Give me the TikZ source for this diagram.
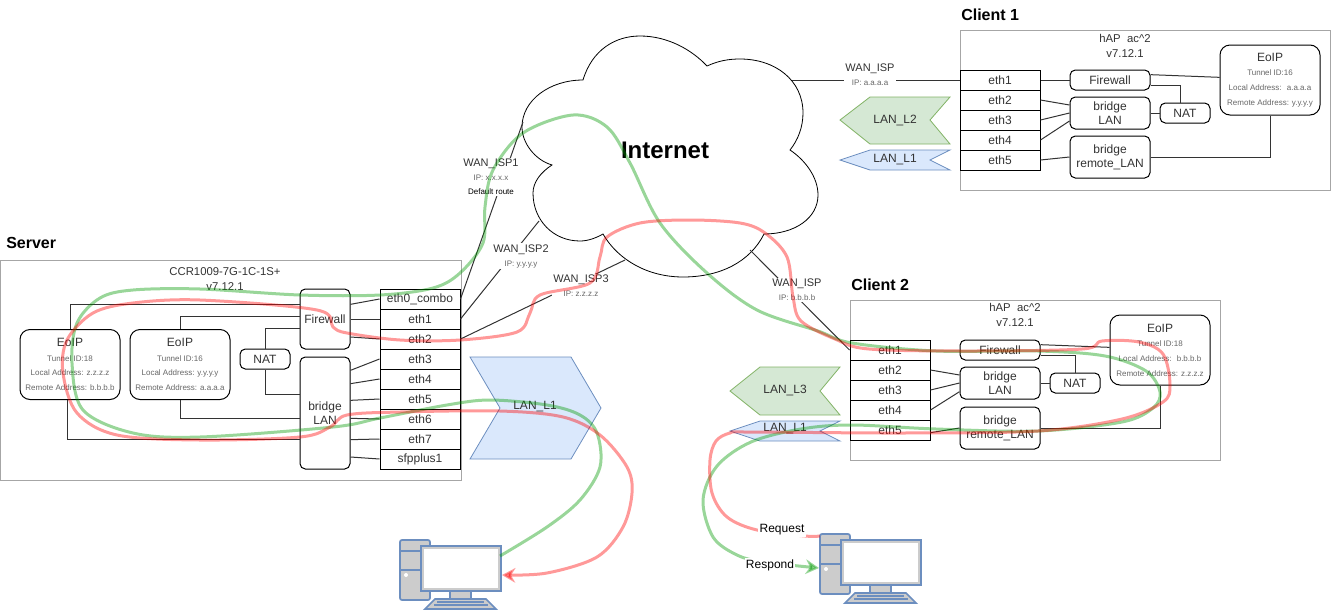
\documentclass[tikz,border=0pt]{standalone}
\usepackage{fontspec}
\setmainfont{Liberation Sans}
\usetikzlibrary{arrows.meta}
\definecolor{lanblue}{HTML}{DAE8FC}
\definecolor{lanblueline}{HTML}{6C8EBF}
\definecolor{langreen}{HTML}{D5E8D4}
\definecolor{langreenline}{HTML}{82B366}
\definecolor{framegrey}{HTML}{A6A6A6}
\definecolor{wiregrey}{HTML}{333333}
\definecolor{smallgrey}{HTML}{666666}
\definecolor{pcgrey}{HTML}{CCCCCC}
\newcommand{\smalltext}[1]{{\fontsize{6}{10.5}\selectfont\color{smallgrey}#1}}
\newcommand{\eoiptext}[3]{EoIP\\\smalltext{Tunnel ID:#1}\\\smalltext{Local Address: #2}\\\smalltext{Remote Address: #3}}
\tikzset{
	frame/.style={draw=framegrey, line width=0.75pt},
	heading/.style={inner sep=0pt, font=\fontsize{12}{14}\selectfont\bfseries},
	title/.style={align=center, text=wiregrey, font=\fontsize{8.5}{11.5}\selectfont},
	portbox/.style={draw, line width=0.75pt, minimum width=60pt, minimum height=15pt, inner sep=0pt, text=wiregrey, font=\fontsize{9}{11}\selectfont},
	roundbox/.style={draw, line width=0.75pt, rounded corners=4pt, minimum width=#1, inner sep=0pt, align=center, fill=white, text=wiregrey, font=\fontsize{9}{10.5}\selectfont},
	eoipbox/.style={draw, line width=0.75pt, rounded corners=7.5pt, minimum width=75pt, minimum height=52.5pt, inner sep=0pt, align=center, text=wiregrey, font=\fontsize{9}{11}\selectfont},
	wire/.style={draw=wiregrey, line width=0.75pt},
	wanlabel/.style={fill=white, align=center, inner sep=1pt, text=wiregrey, font=\fontsize{8.25}{10.5}\selectfont},
	lanblueshape/.style={draw=lanblueline, fill=lanblue, line width=0.6pt},
	langreenshape/.style={draw=langreenline, fill=langreen, line width=0.6pt},
	lantext/.style={inner sep=0pt, text=wiregrey, font=\fontsize{9}{11}\selectfont},
	flowtext/.style={fill=white, inner sep=1pt, font=\fontsize{9}{11}\selectfont},
	redflow/.style={draw=red, opacity=0.4, line width=2.25pt},
	greenflow/.style={draw=green!60!black, opacity=0.4, line width=2.25pt},
	pcline/.style={draw=lanblueline, line width=1.3pt},
	pcicon/.pic={
		\draw[pcline, fill=pcgrey, rounded corners=1.5pt] (0,0) rectangle (30,60);
		\draw[pcline] (0,11) -- (21,11);
		\draw[pcline] (0,30) -- (21,30);
		\fill[white] (6,35) circle (1.5pt);
		\draw[pcline, fill=pcgrey] (50,51) rectangle (71,59);
		\draw[pcline, fill=pcgrey] (35,59) -- (86,59) -- (96,69) -- (25,69) -- cycle;
		\draw[pcline, line width=0.9pt] (37,62) -- (84,62);
		\draw[pcline, line width=0.9pt] (34,65) -- (88,65);
		\draw[pcline, fill=pcgrey] (21,6) rectangle (101,51);
		\fill[white] (24,9) rectangle (98,48);
		\coordinate (-ru) at (100,16);
		\coordinate (-rl) at (102,35);
		\coordinate (-lu) at (0,2);
		\coordinate (-ll) at (-1,34);
	}
}
\begin{document}
\begin{tikzpicture}[x=0.75pt, y=-0.75pt]
	\useasboundingbox (0,0) rectangle (1331,611);
	% device frames
	\draw[frame] (0,260) rectangle (461,480);
	\draw[frame] (960,30) rectangle (1330,190);
	\draw[frame] (850,300) rectangle (1220,460);
	\node[heading, anchor=west] (hserver) at (6,243) {Server};
	\node[heading, anchor=west] (hclienta) at (961,15) {Client 1};
	\node[heading, anchor=west] (hclientb) at (851,285) {Client 2};
	\node[title] (tserver) at (225,279) {CCR1009-7G-1C-1S+\\v7.12.1};
	\node[title] (tclienta) at (1125,46) {hAP\ \ ac\textasciicircum 2\\v7.12.1};
	\node[title] (tclientb) at (1015,315) {hAP\ \ ac\textasciicircum 2\\v7.12.1};
	% internet
	\draw[fill=white, line width=0.6pt] (583,80) .. controls (592,50) and (615,36) .. (640,36)
		.. controls (668,36) and (692,50) .. (707,66)
		.. controls (718,61) and (728,59) .. (740,59)
		.. controls (775,59) and (803,80) .. (803,113)
		.. controls (803,127) and (798,140) .. (790,150)
		.. controls (805,160) and (818,177) .. (818,195)
		.. controls (818,218) and (795,234) .. (764,234)
		.. controls (750,262) and (720,277) .. (683,277)
		.. controls (648,277) and (618,260) .. (603,234)
		.. controls (596,238) and (588,241) .. (580,241)
		.. controls (553,241) and (533,220) .. (533,193)
		.. controls (533,182) and (541,172) .. (552,165)
		.. controls (535,160) and (522,143) .. (522,127)
		.. controls (522,100) and (550,80) .. (583,80) -- cycle;
	\node[font=\fontsize{18}{20}\selectfont\bfseries] (inet) at (665,150) {Internet};
	\coordinate (cisp1) at (523,122);
	\coordinate (cisp2) at (539,221);
	\coordinate (cisp3) at (625,260);
	\coordinate (cclienta) at (792,80);
	\coordinate (cclientb) at (750,250);
	% server
	\node[portbox] (seth0) at (420,299) {eth0\_combo};
	\node[portbox] (seth1) at (420,319) {eth1};
	\node[portbox] (seth2) at (420,339) {eth2};
	\node[portbox] (seth3) at (420,359) {eth3};
	\node[portbox] (seth4) at (420,379) {eth4};
	\node[portbox] (seth5) at (420,399) {eth5};
	\node[portbox] (seth6) at (420,419) {eth6};
	\node[portbox] (seth7) at (420,439) {eth7};
	\node[portbox] (sfp) at (420,459) {sfpplus1};
	\node[roundbox=37.5pt, minimum height=45pt] (sfw) at (325,319) {Firewall};
	\node[roundbox=37.5pt, minimum height=84pt] (sbridge) at (325,413) {bridge\\LAN};
	\node[roundbox=37.5pt, minimum height=15pt] (snat) at (265,359) {NAT};
	\node[eoipbox] (seoipa) at (70,364.5) {\eoiptext{18}{z.z.z.z}{b.b.b.b}};
	\node[eoipbox] (seoipb) at (180,364.5) {\eoiptext{16}{y.y.y.y}{a.a.a.a}};
	\draw[wire] (seoipa.north) |- ([yshift=11pt]sfw.west);
	\draw[wire] (seoipb.north) |- ([yshift=2pt]sfw.west);
	\draw[wire] (snat.north) |- ([yshift=-7pt]sfw.west);
	\draw[wire] (snat.south) |- ([yshift=14pt]sbridge.west);
	\draw[wire] (seoipb.south) |- ([yshift=-4pt]sbridge.west);
	\draw[wire] ([xshift=-2pt]seoipa.south) |- ([yshift=-20pt]sbridge.west);
	\draw[wire] (seth0.west) -- ([yshift=11pt]sfw.east);
	\draw[wire] (seth1.west) -- (sfw.east);
	\draw[wire] (seth2.west) -- ([yshift=-13.5pt]sfw.east);
	\draw[wire] (seth3.west) -- ([yshift=32pt]sbridge.east);
	\draw[wire] (seth4.west) -- ([yshift=22pt]sbridge.east);
	\draw[wire] (seth5.west) -- ([yshift=9.5pt]sbridge.east);
	\draw[wire] (seth6.west) -- ([yshift=-4pt]sbridge.east);
	\draw[wire] (seth7.west) -- ([yshift=-20pt]sbridge.east);
	\draw[wire] (sfp.west) -- ([yshift=-33pt]sbridge.east);
	\draw[wire] (seth0.east) -- (cisp1);
	\draw[wire] (seth1.east) -- (cisp2);
	\draw[wire] (seth2.east) -- (cisp3);
	\node[wanlabel] (wisp1) at (491,177) {WAN\_ISP1\\\smalltext{IP: x.x.x.x}\\{\fontsize{6}{10.5}\selectfont\color{black}Default route}};
	\node[wanlabel] (wisp2) at (521,256) {WAN\_ISP2\\\smalltext{IP: y.y.y.y}};
	\node[wanlabel] (wisp3) at (581,286) {WAN\_ISP3\\\smalltext{IP: z.z.z.z}};
	% client 1
	\node[portbox] (aeth1) at (1000,80) {eth1};
	\node[portbox] (aeth2) at (1000,100) {eth2};
	\node[portbox] (aeth3) at (1000,120) {eth3};
	\node[portbox] (aeth4) at (1000,140) {eth4};
	\node[portbox] (aeth5) at (1000,160) {eth5};
	\node[roundbox=60pt, minimum height=15pt] (afw) at (1110,80) {Firewall};
	\node[roundbox=60pt, minimum height=24pt] (abridge) at (1110,113) {bridge\\LAN};
	\node[roundbox=60pt, minimum height=31.5pt] (aremote) at (1110,157) {bridge\\remote\_LAN};
	\node[roundbox=37.5pt, minimum height=15pt] (anat) at (1185,113) {NAT};
	\node[eoipbox] (aeoip) at (1270,80) {\eoiptext{16}{\ a.a.a.a}{y.y.y.y}};
	\draw[wire] (aeth1.east) -- (afw.west);
	\draw[wire] (aeth2.east) -- ([yshift=6pt]abridge.west);
	\draw[wire] (aeth3.east) -- (abridge.west);
	\draw[wire] (aeth4.east) -- ([yshift=-6pt]abridge.west);
	\draw[wire] (aeth5.east) -- (aremote.west);
	\draw[wire] ([yshift=4pt]afw.east) -- ([yshift=2pt]aeoip.west);
	\draw[wire] ([yshift=-4pt]afw.east) -| ([xshift=-3.75pt]anat.north);
	\draw[wire] (abridge.east) -- (anat.west);
	\draw[wire] (aremote.east) -| (aeoip.south);
	\draw[wire] (cclienta) -- (aeth1.west);
	\node[wanlabel] (wispa) at (870,75) {WAN\_ISP\\\smalltext{IP: a.a.a.a}};
	% client 2
	\node[portbox] (beth1) at (890,350) {eth1};
	\node[portbox] (beth2) at (890,370) {eth2};
	\node[portbox] (beth3) at (890,390) {eth3};
	\node[portbox] (beth4) at (890,410) {eth4};
	\node[portbox] (beth5) at (890,430) {eth5};
	\node[roundbox=60pt, minimum height=15pt] (bfw) at (1000,350) {Firewall};
	\node[roundbox=60pt, minimum height=24pt] (bbridge) at (1000,383) {bridge\\LAN};
	\node[roundbox=60pt, minimum height=31.5pt] (bremote) at (1000,428) {bridge\\remote\_LAN};
	\node[roundbox=37.5pt, minimum height=15pt] (bnat) at (1075,383) {NAT};
	\node[eoipbox] (beoip) at (1160,350) {\eoiptext{18}{\ b.b.b.b}{z.z.z.z}};
	\draw[wire] (beth2.east) -- ([yshift=6pt]bbridge.west);
	\draw[wire] (beth3.east) -- (bbridge.west);
	\draw[wire] (beth4.east) -- ([yshift=-6.5pt]bbridge.west);
	\draw[wire] ([yshift=-2pt]beth5.east) -- (bremote.west);
	\draw[wire] ([yshift=4pt]bfw.east) -- ([yshift=2pt]beoip.west);
	\draw[wire] ([yshift=-4pt]bfw.east) -| (bnat.north);
	\draw[wire] (bbridge.east) -- (bnat.west);
	\draw[wire] (bremote.east) -| (beoip.south);
	\draw[wire] (cclientb) -- (beth1.west);
	\node[wanlabel] (wispb) at (797,290) {WAN\_ISP\\\smalltext{IP: b.b.b.b}};
	% LAN tags
	\draw[langreenshape] (840,120) -- (870,97) -- (950,97) -- (930,120) -- (950,144) -- (870,144) -- cycle;
	\node[lantext] (lanl2) at (895,120) {LAN\_L2};
	\draw[lanblueshape] (840,160) -- (870,150) -- (950,150) -- (930,160) -- (950,170) -- (870,170) -- cycle;
	\node[lantext] (lanl1a) at (895,160) {LAN\_L1};
	\draw[langreenshape] (730,391) -- (760,367) -- (840,367) -- (820,391) -- (840,415) -- (760,415) -- cycle;
	\node[lantext] (lanl3) at (785,390) {LAN\_L3};
	\draw[lanblueshape] (730,431) -- (760,421) -- (840,421) -- (820,431) -- (840,441) -- (760,441) -- cycle;
	\node[lantext] (lanl1b) at (785,429) {LAN\_L1};
	\draw[lanblueshape] (470,357) -- (571,357) -- (601,408) -- (571,459) -- (470,459) -- (500,408) -- cycle;
	\node[lantext] (lanl1c) at (535,407) {LAN\_L1};
	% computers
	\pic (pca) at (400,540) {pcicon};
	\pic (pcb) at (820,534) {pcicon};
	% flows
	\draw[greenflow, -{Stealth[length=10pt, width=11pt]}] plot[smooth, tension=0.55] coordinates {(pca-ru) (547,527) (580,500) (600,467) (597,433) (580,415) (547,405) (490,400) (447,405) (380,418) (333,427) (200,437) (133,433) (83,410) (72,363) (77,323) (100,298) (133,290) (200,289) (300,295) (380,295) (433,288) (460,273) (483,243) (485,207) (493,170) (523,133) (573,115) (607,127) (630,163) (660,223) (707,273) (757,310) (818,331) (852,343) (936,351) (1038,351) (1105,356) (1146,371) (1160,392) (1153,408) (1122,422) (1038,431) (936,429) (852,425) (801,429) (751,442) (717,466) (703,500) (713,537) (737,555) (764,562) (pcb-ll)};
	\draw[redflow, -{Stealth[length=10pt, width=11pt]}] plot[smooth, tension=0.55] coordinates {(pcb-lu) (805,536) (757,530) (727,517) (712,493) (710,460) (716,441) (730,433) (750,432) (903,433) (1038,431) (1122,419) (1163,402) (1170,385) (1163,354) (1139,342) (1102,341) (1082,349) (970,351) (869,349) (835,339) (801,321) (793,297) (787,257) (765,233) (740,223) (690,220) (640,223) (607,237) (600,257) (590,283) (540,295) (530,313) (517,332) (460,340) (400,340) (347,333) (333,327) (317,310) (200,300) (133,303) (93,313) (67,340) (63,373) (77,413) (117,435) (200,440) (300,437) (330,427) (347,415) (400,412) (500,411) (563,417) (600,435) (627,467) (632,493) (623,527) (597,557) (547,573) (pca-rl)};
	\node[flowtext] (request) at (782,530) {Request};
	\node[flowtext] (respond) at (770,565) {Respond};
\end{tikzpicture}
\end{document}
